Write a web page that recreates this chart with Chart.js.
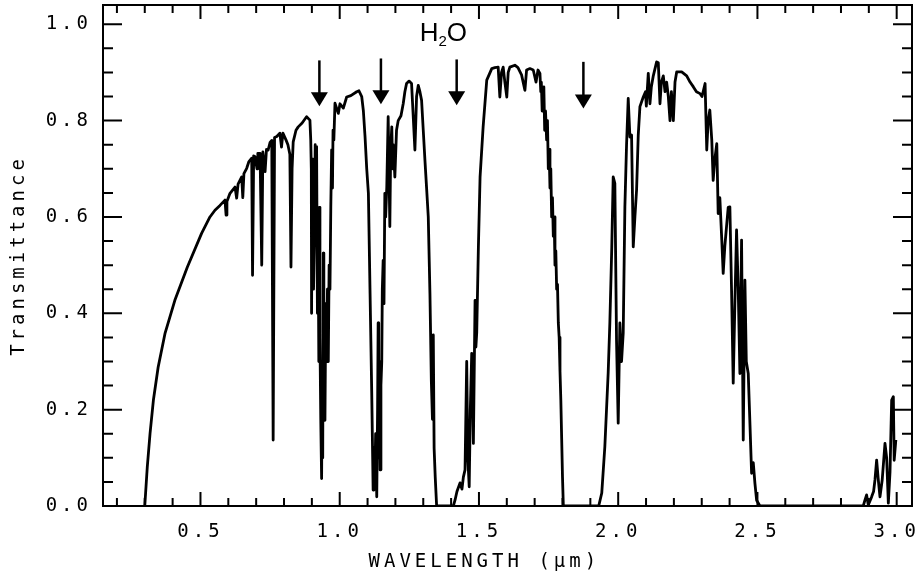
<!DOCTYPE html>
<html>
<head>
<meta charset="utf-8">
<script src="https://cdn.jsdelivr.net/npm/chart.js@4.4.1/dist/chart.umd.min.js"></script>
<style>
  html, body { margin: 0; padding: 0; background: #fff; }
  #wrap { width: 920px; height: 573px; position: relative; }
</style>
</head>
<body>
<div id="wrap"><canvas id="spectrum"></canvas></div>
<script>
// atmospheric transmittance spectrum, wavelength in µm
const wavelength = [
  0.300, 0.309, 0.319, 0.331, 0.348, 0.373, 0.408, 0.453, 0.504, 0.534,
  0.552, 0.570, 0.588, 0.592, 0.595, 0.606, 0.624, 0.630, 0.635, 0.648,
  0.652, 0.656, 0.666, 0.674, 0.684, 0.687, 0.691, 0.696, 0.703, 0.706,
  0.714, 0.720, 0.724, 0.732, 0.737, 0.743, 0.750, 0.756, 0.761, 0.766,
  0.774, 0.785, 0.791, 0.796, 0.807, 0.814, 0.821, 0.825, 0.829, 0.833,
  0.843, 0.851, 0.865, 0.881, 0.893, 0.896, 0.898, 0.899, 0.901, 0.904,
  0.906, 0.909, 0.912, 0.915, 0.917, 0.920, 0.923, 0.925, 0.927, 0.929,
  0.932, 0.935, 0.937, 0.939, 0.941, 0.943, 0.944, 0.947, 0.950, 0.953,
  0.956, 0.959, 0.962, 0.965, 0.968, 0.971, 0.974, 0.976, 0.979, 0.983,
  0.995, 1.001, 1.013, 1.025, 1.040, 1.061, 1.069, 1.079, 1.085, 1.091,
  1.097, 1.103, 1.109, 1.115, 1.120, 1.123, 1.126, 1.129, 1.133, 1.136,
  1.138, 1.140, 1.142, 1.145, 1.148, 1.151, 1.153, 1.156, 1.159, 1.162,
  1.165, 1.169, 1.171, 1.174, 1.177, 1.180, 1.183, 1.187, 1.190, 1.192,
  1.195, 1.198, 1.204, 1.210, 1.220, 1.228, 1.234, 1.240, 1.249, 1.258,
  1.263, 1.270, 1.276, 1.282, 1.288, 1.294, 1.300, 1.306, 1.312, 1.318,
  1.324, 1.329, 1.333, 1.336, 1.339, 1.343, 1.348, 1.408, 1.414, 1.421,
  1.432, 1.439, 1.444, 1.450, 1.456, 1.460, 1.465, 1.469, 1.474, 1.477,
  1.480, 1.486, 1.489, 1.492, 1.498, 1.504, 1.515, 1.528, 1.546, 1.557,
  1.569, 1.575, 1.581, 1.587, 1.593, 1.600, 1.605, 1.611, 1.629, 1.640,
  1.653, 1.665, 1.671, 1.683, 1.695, 1.705, 1.712, 1.719, 1.722, 1.724,
  1.727, 1.731, 1.733, 1.736, 1.739, 1.743, 1.746, 1.749, 1.752, 1.755,
  1.758, 1.761, 1.764, 1.767, 1.770, 1.773, 1.776, 1.779, 1.782, 1.785,
  1.788, 1.791, 1.794, 1.797, 1.800, 1.803, 1.930, 1.941, 1.952, 1.964,
  1.970, 1.977, 1.982, 1.988, 1.994, 2.000, 2.006, 2.012, 2.018, 2.024,
  2.030, 2.036, 2.042, 2.048, 2.054, 2.060, 2.066, 2.072, 2.078, 2.090,
  2.098, 2.101, 2.108, 2.114, 2.119, 2.126, 2.138, 2.144, 2.150, 2.155,
  2.162, 2.168, 2.174, 2.180, 2.186, 2.191, 2.198, 2.204, 2.210, 2.228,
  2.246, 2.258, 2.270, 2.281, 2.294, 2.301, 2.312, 2.318, 2.323, 2.329,
  2.336, 2.341, 2.347, 2.354, 2.359, 2.365, 2.372, 2.377, 2.383, 2.389,
  2.395, 2.401, 2.407, 2.413, 2.419, 2.425, 2.431, 2.437, 2.443, 2.449,
  2.455, 2.460, 2.467, 2.473, 2.479, 2.485, 2.491, 2.497, 2.509, 2.880,
  2.886, 2.892, 2.898, 2.910, 2.917, 2.922, 2.928, 2.934, 2.940, 2.948,
  2.958, 2.964, 2.970, 2.976, 2.982, 2.988, 2.991, 2.997
];
const transmittance = [
  0.000, 0.081, 0.151, 0.220, 0.288, 0.359, 0.427, 0.496, 0.566, 0.600,
  0.614, 0.624, 0.635, 0.604, 0.632, 0.649, 0.662, 0.639, 0.668, 0.683,
  0.640, 0.690, 0.701, 0.715, 0.722, 0.479, 0.727, 0.725, 0.700, 0.732,
  0.732, 0.500, 0.735, 0.694, 0.740, 0.739, 0.755, 0.759, 0.137, 0.765,
  0.767, 0.774, 0.745, 0.774, 0.760, 0.750, 0.730, 0.496, 0.700, 0.756,
  0.780, 0.787, 0.795, 0.808, 0.801, 0.760, 0.700, 0.400, 0.720, 0.680,
  0.450, 0.550, 0.750, 0.680, 0.746, 0.400, 0.517, 0.300, 0.620, 0.350,
  0.178, 0.057, 0.250, 0.100, 0.525, 0.200, 0.400, 0.178, 0.420, 0.300,
  0.450, 0.300, 0.500, 0.450, 0.620, 0.739, 0.660, 0.780, 0.760, 0.836,
  0.815, 0.835, 0.826, 0.849, 0.852, 0.860, 0.862, 0.850, 0.820, 0.766,
  0.700, 0.649, 0.441, 0.234, 0.033, 0.120, 0.050, 0.150, 0.019, 0.200,
  0.380, 0.100, 0.300, 0.075, 0.250, 0.300, 0.450, 0.510, 0.420, 0.649,
  0.600, 0.662, 0.720, 0.808, 0.700, 0.580, 0.740, 0.787, 0.700, 0.750,
  0.720, 0.683, 0.780, 0.800, 0.810, 0.835, 0.860, 0.877, 0.882, 0.877,
  0.820, 0.739, 0.850, 0.873, 0.860, 0.842, 0.780, 0.718, 0.660, 0.600,
  0.441, 0.260, 0.180, 0.355, 0.120, 0.060, 0.000, 0.000, 0.012, 0.030,
  0.048, 0.035, 0.060, 0.075, 0.300, 0.100, 0.040, 0.200, 0.317, 0.250,
  0.130, 0.427, 0.330, 0.360, 0.538, 0.683, 0.787, 0.884, 0.908, 0.910,
  0.911, 0.849, 0.900, 0.911, 0.880, 0.849, 0.900, 0.911, 0.915, 0.910,
  0.895, 0.863, 0.905, 0.908, 0.905, 0.880, 0.905, 0.898, 0.860, 0.880,
  0.820, 0.842, 0.870, 0.780, 0.820, 0.760, 0.800, 0.700, 0.740, 0.660,
  0.700, 0.600, 0.640, 0.560, 0.600, 0.500, 0.530, 0.450, 0.460, 0.380,
  0.350, 0.280, 0.220, 0.140, 0.060, 0.000, 0.000, 0.027, 0.123, 0.276,
  0.380, 0.538, 0.683, 0.670, 0.344, 0.172, 0.380, 0.300, 0.359, 0.621,
  0.750, 0.846, 0.766, 0.770, 0.538, 0.600, 0.656, 0.770, 0.829, 0.849,
  0.860, 0.830, 0.898, 0.835, 0.870, 0.893, 0.922, 0.920, 0.835, 0.880,
  0.893, 0.860, 0.880, 0.850, 0.800, 0.860, 0.800, 0.880, 0.901, 0.901,
  0.893, 0.880, 0.870, 0.860, 0.856, 0.850, 0.877, 0.739, 0.800, 0.822,
  0.760, 0.676, 0.720, 0.752, 0.607, 0.640, 0.552, 0.483, 0.540, 0.580,
  0.620, 0.621, 0.450, 0.255, 0.420, 0.573, 0.450, 0.275, 0.552, 0.137,
  0.469, 0.300, 0.275, 0.172, 0.068, 0.090, 0.047, 0.012, 0.000, 0.000,
  0.012, 0.023, 0.002, 0.019, 0.030, 0.054, 0.095, 0.054, 0.019, 0.054,
  0.130, 0.100, 0.006, 0.070, 0.220, 0.227, 0.095, 0.137
];

const xMajorTicks = [0.5, 1.0, 1.5, 2.0, 2.5, 3.0];
const yMajorTicks = [0.0, 0.2, 0.4, 0.6, 0.8, 1.0];

// water vapour absorption bands
const h2oArrowX = [0.927, 1.148, 1.420, 1.875];
const h2oArrowTop = [0.925, 0.929, 0.927, 0.922];
const h2oArrowTip = [0.830, 0.834, 0.832, 0.825];
const h2oLabelX = 1.372;
const h2oLabelY = 0.965;

const X_MIN = 0.15, X_MAX = 3.055;
const Y_MIN = 0, Y_MAX = 1.04;
const MONO = '"DejaVu Sans Mono", monospace';
const axisFont = { family: MONO, size: 19 };

// plotter style box with inward ticks on all four sides
const frameTicks = {
  id: 'frameTicks',
  beforeDraw(chart) {
    chart.ctx.letterSpacing = '4px';
  },
  afterDatasetsDraw(chart) {
    const { ctx, chartArea: a, scales: { x, y } } = chart;
    ctx.save();
    ctx.strokeStyle = '#000';
    ctx.lineWidth = 2;
    ctx.strokeRect(a.left, a.top, a.right - a.left, a.bottom - a.top);
    ctx.beginPath();
    for (let i = 2; i <= 30; i++) {
      const px = x.getPixelForValue(i / 10);
      const len = i % 5 === 0 ? 14 : 8;
      ctx.moveTo(px, a.bottom);
      ctx.lineTo(px, a.bottom - len);
      ctx.moveTo(px, a.top);
      ctx.lineTo(px, a.top + len);
    }
    for (let i = 1; i <= 20; i++) {
      const py = y.getPixelForValue(i / 20);
      const len = i % 4 === 0 ? 19 : 10;
      ctx.moveTo(a.left, py);
      ctx.lineTo(a.left + len, py);
      ctx.moveTo(a.right, py);
      ctx.lineTo(a.right - len, py);
    }
    ctx.stroke();
    ctx.restore();
  }
};

const bandMarkers = {
  id: 'bandMarkers',
  afterDatasetsDraw(chart) {
    const { ctx, scales: { x, y } } = chart;
    ctx.save();
    ctx.letterSpacing = '0px';
    ctx.fillStyle = '#000';
    ctx.strokeStyle = '#000';
    ctx.lineWidth = 2.5;
    h2oArrowX.forEach((v, i) => {
      const px = x.getPixelForValue(v);
      const top = y.getPixelForValue(h2oArrowTop[i]);
      const tip = y.getPixelForValue(h2oArrowTip[i]);
      ctx.beginPath();
      ctx.moveTo(px, top);
      ctx.lineTo(px, tip - 10);
      ctx.stroke();
      ctx.beginPath();
      ctx.moveTo(px - 8.5, tip - 14);
      ctx.lineTo(px + 8.5, tip - 14);
      ctx.lineTo(px, tip);
      ctx.closePath();
      ctx.fill();
    });

    // H2O with subscript
    const big = '26px "Liberation Sans", Arial, sans-serif';
    const small = '15px "Liberation Sans", Arial, sans-serif';
    ctx.textBaseline = 'alphabetic';
    ctx.textAlign = 'left';
    ctx.font = big;
    const wH = ctx.measureText('H').width;
    const wO = ctx.measureText('O').width;
    ctx.font = small;
    const w2 = ctx.measureText('2').width;
    const base = y.getPixelForValue(h2oLabelY);
    let cx = x.getPixelForValue(h2oLabelX) - (wH + w2 + wO) / 2;
    ctx.font = big;
    ctx.fillText('H', cx, base);
    cx += wH;
    ctx.font = small;
    ctx.fillText('2', cx, base + 5);
    cx += w2;
    ctx.font = big;
    ctx.fillText('O', cx, base);
    ctx.restore();
  }
};

new Chart(document.getElementById('spectrum'), {
  type: 'line',
  data: {
    datasets: [{
      data: wavelength.map((w, i) => ({ x: w, y: transmittance[i] })),
      borderColor: '#000',
      borderWidth: 2.8,
      borderJoinStyle: 'round',
      pointRadius: 0,
      tension: 0,
      fill: false
    }]
  },
  options: {
    responsive: true,
    maintainAspectRatio: false,
    animation: false,
    layout: { padding: { top: 5, right: 8, left: 0, bottom: 0 } },
    plugins: {
      legend: { display: false },
      tooltip: { enabled: false }
    },
    scales: {
      x: {
        type: 'linear',
        min: X_MIN,
        max: X_MAX,
        grid: { display: false, drawTicks: false },
        border: { display: false },
        afterBuildTicks: s => { s.ticks = xMajorTicks.map(v => ({ value: v })); },
        afterFit: s => {
          s.height = 67;
          s.paddingLeft = 0;
          s.paddingRight = 0;
        },
        ticks: {
          padding: 15,
          color: '#000',
          font: axisFont,
          callback: v => v.toFixed(1)
        },
        title: {
          display: true,
          text: 'WAVELENGTH (\u03bcm)   ',
          color: '#000',
          font: axisFont,
          padding: { top: 0, bottom: 0 }
        }
      },
      y: {
        type: 'linear',
        min: Y_MIN,
        max: Y_MAX,
        grid: { display: false, drawTicks: false },
        border: { display: false },
        afterBuildTicks: s => { s.ticks = yMajorTicks.map(v => ({ value: v })); },
        afterFit: s => {
          s.width = 103;
          s.paddingTop = 0;
          s.paddingBottom = 0;
        },
        ticks: {
          padding: 11,
          color: '#000',
          font: axisFont,
          callback: v => v.toFixed(1)
        },
        title: {
          display: true,
          text: 'Transmittance',
          color: '#000',
          font: axisFont,
          padding: { top: 8, bottom: 0 }
        }
      }
    }
  },
  plugins: [frameTicks, bandMarkers]
});
</script>
</body>
</html>
